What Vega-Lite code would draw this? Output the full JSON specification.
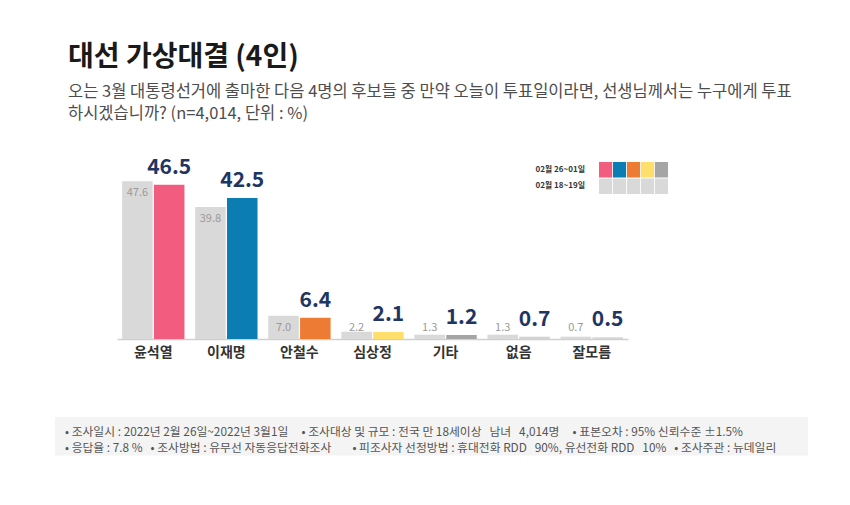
{
  "$schema": "https://vega.github.io/schema/vega-lite/v6.json",
  "width": 511,
  "height": 199,
  "autosize": {"type": "none"},
  "padding": {"left": 117, "top": 140, "right": 222, "bottom": 166},
  "background": "#ffffff",
  "config": {"font": "Noto Sans CJK KR", "view": {"stroke": null}},
  "title": {
    "text": "대선 가상대결 (4인)",
    "subtitle": ["오는 3월 대통령선거에 출마한 다음 4명의 후보들 중 만약 오늘이 투표일이라면, 선생님께서는 누구에게 투표", "하시겠습니까?  (n=4,014, 단위 : %)"],
    "anchor": "start",
    "frame": "group",
    "dx": -49,
    "offset": 18,
    "font": "Noto Sans CJK KR",
    "fontSize": 28,
    "fontWeight": "bold",
    "color": "#1a1a1a",
    "subtitleFont": "Noto Sans CJK KR",
    "subtitleFontSize": 16.5,
    "subtitleColor": "#4d4d4d",
    "subtitleLineHeight": 22,
    "subtitlePadding": 12
  },
  "datasets": {
    "votes": [
      {"candidate": "윤석열", "period": "02월 18~19일", "value": 47.6},
      {"candidate": "윤석열", "period": "02월 26~01일", "value": 46.5},
      {"candidate": "이재명", "period": "02월 18~19일", "value": 39.8},
      {"candidate": "이재명", "period": "02월 26~01일", "value": 42.5},
      {"candidate": "안철수", "period": "02월 18~19일", "value": 7.0},
      {"candidate": "안철수", "period": "02월 26~01일", "value": 6.4},
      {"candidate": "심상정", "period": "02월 18~19일", "value": 2.2},
      {"candidate": "심상정", "period": "02월 26~01일", "value": 2.1},
      {"candidate": "기타", "period": "02월 18~19일", "value": 1.3},
      {"candidate": "기타", "period": "02월 26~01일", "value": 1.2},
      {"candidate": "없음", "period": "02월 18~19일", "value": 1.3},
      {"candidate": "없음", "period": "02월 26~01일", "value": 0.7},
      {"candidate": "잘모름", "period": "02월 18~19일", "value": 0.7},
      {"candidate": "잘모름", "period": "02월 26~01일", "value": 0.5}
    ],
    "legendKeys": [
      {"candidate": "윤석열", "period": "02월 26~01일"},
      {"candidate": "이재명", "period": "02월 26~01일"},
      {"candidate": "안철수", "period": "02월 26~01일"},
      {"candidate": "심상정", "period": "02월 26~01일"},
      {"candidate": "기타", "period": "02월 26~01일"},
      {"candidate": "윤석열", "period": "02월 18~19일"},
      {"candidate": "이재명", "period": "02월 18~19일"},
      {"candidate": "안철수", "period": "02월 18~19일"},
      {"candidate": "심상정", "period": "02월 18~19일"},
      {"candidate": "기타", "period": "02월 18~19일"}
    ],
    "footer": [
      {"line": 1, "text": "• 조사일시 : 2022년 2월 26일~2022년 3월1일\u00a0\u00a0\u00a0\u00a0 • 조사대상 및 규모 : 전국 만 18세이상\u00a0\u00a0 남녀\u00a0\u00a0 4,014명\u00a0\u00a0\u00a0\u00a0 • 표본오차 : 95% 신뢰수준 ±1.5%"},
      {"line": 2, "text": "• 응답율 : 7.8 %\u00a0\u00a0 • 조사방법 : 유무선 자동응답전화조사\u00a0\u00a0\u00a0\u00a0\u00a0\u00a0\u00a0 • 피조사자 선정방법 : 휴대전화 RDD\u00a0\u00a0 90%, 유선전화 RDD\u00a0\u00a0 10%\u00a0\u00a0 • 조사주관 : 뉴데일리"}
    ]
  },
  "resolve": {"scale": {"x": "independent", "y": "independent"}},
  "layer": [
    {
      "data": {"name": "votes"},
      "encoding": {
        "x": {
          "field": "candidate",
          "type": "nominal",
          "sort": ["윤석열", "이재명", "안철수", "심상정", "기타", "없음", "잘모름"],
          "scale": {"paddingInner": 0.147, "paddingOuter": 0.07},
          "axis": {
            "title": null,
            "labelAngle": 0,
            "ticks": false,
            "tickSize": 0,
            "domainColor": "#d0d0d0",
            "domainWidth": 1.5,
            "labelFont": "Noto Sans CJK KR",
            "labelFontSize": 14,
            "labelFontWeight": "bold",
            "labelColor": "#333333",
            "labelPadding": 6
          }
        },
        "xOffset": {
          "field": "period",
          "type": "nominal",
          "scale": {"domain": ["02월 18~19일", "02월 26~01일"], "paddingInner": 0.04}
        }
      },
      "layer": [
        {
          "mark": {"type": "bar"},
          "encoding": {
            "y": {"field": "value", "type": "quantitative", "scale": {"domain": [0, 57]}, "axis": null},
            "color": {
              "condition": {"test": "datum.period === '02월 18~19일'", "value": "#d9d9d9"},
              "field": "candidate",
              "type": "nominal",
              "scale": {
                "domain": ["윤석열", "이재명", "안철수", "심상정", "기타", "없음", "잘모름"],
                "range": ["#f25c7f", "#0b7db3", "#ee7b33", "#ffdf6b", "#a5a5a5", "#d4d4d4", "#d4d4d4"]
              },
              "legend": null
            }
          }
        },
        {
          "transform": [
            {"filter": "datum.period === '02월 18~19일'"},
            {"calculate": "max(datum.value, 6.9)", "as": "labelPos"}
          ],
          "mark": {"type": "text", "dy": 12, "fontSize": 11, "color": "#9a9a9a", "baseline": "middle"},
          "encoding": {
            "y": {"field": "labelPos", "type": "quantitative"},
            "text": {"field": "value", "type": "quantitative", "format": ".1f"}
          }
        },
        {
          "transform": [{"filter": "datum.period === '02월 26~01일'"}],
          "mark": {"type": "text", "dy": -17, "fontSize": 21, "fontWeight": "bold", "color": "#1f3564", "baseline": "middle"},
          "encoding": {
            "y": {"field": "value", "type": "quantitative"},
            "text": {"field": "value", "type": "quantitative", "format": ".1f"}
          }
        }
      ]
    },
    {
      "data": {"name": "legendKeys"},
      "encoding": {
        "x": {
          "field": "candidate",
          "type": "nominal",
          "scale": {"domain": ["윤석열", "이재명", "안철수", "심상정", "기타"], "range": [482, 551], "paddingInner": 0.06, "paddingOuter": 0},
          "axis": null
        },
        "y": {
          "field": "period",
          "type": "nominal",
          "scale": {"domain": ["02월 26~01일", "02월 18~19일"], "range": [22, 54], "paddingInner": 0.06, "paddingOuter": 0},
          "axis": null
        }
      },
      "layer": [
        {
          "mark": {"type": "rect"},
          "encoding": {
            "color": {
              "condition": {"test": "datum.period === '02월 18~19일'", "value": "#d9d9d9"},
              "field": "candidate",
              "type": "nominal",
              "legend": null
            }
          }
        },
        {
          "transform": [{"filter": "datum.candidate === '윤석열'"}],
          "mark": {"type": "text", "align": "right", "dx": -14, "fontSize": 8, "fontWeight": "bold", "color": "#333333", "baseline": "middle"},
          "encoding": {
            "x": {"field": "candidate", "type": "nominal", "bandPosition": 0},
            "text": {"field": "period", "type": "nominal"}
          }
        }
      ]
    },
    {
      "layer": [
        {
          "data": {"values": [{"box": "footer"}]},
          "mark": {"type": "rect", "color": "#f4f4f4"},
          "encoding": {
            "x": {"datum": 0, "type": "quantitative", "scale": {"domain": [0, 1], "range": [-62, 691]}, "axis": null},
            "x2": {"datum": 1},
            "y": {"datum": 0, "type": "quantitative", "scale": {"domain": [0, 2.5], "range": [277, 317]}, "axis": null},
            "y2": {"datum": 2.5}
          }
        },
        {
          "data": {"name": "footer"},
          "mark": {"type": "text", "align": "left", "dx": 10, "fontSize": 11.8, "color": "#555555", "baseline": "middle"},
          "encoding": {
            "x": {"datum": 0, "type": "quantitative"},
            "y": {"field": "line", "type": "quantitative"},
            "text": {"field": "text", "type": "nominal"}
          }
        }
      ]
    }
  ]
}
